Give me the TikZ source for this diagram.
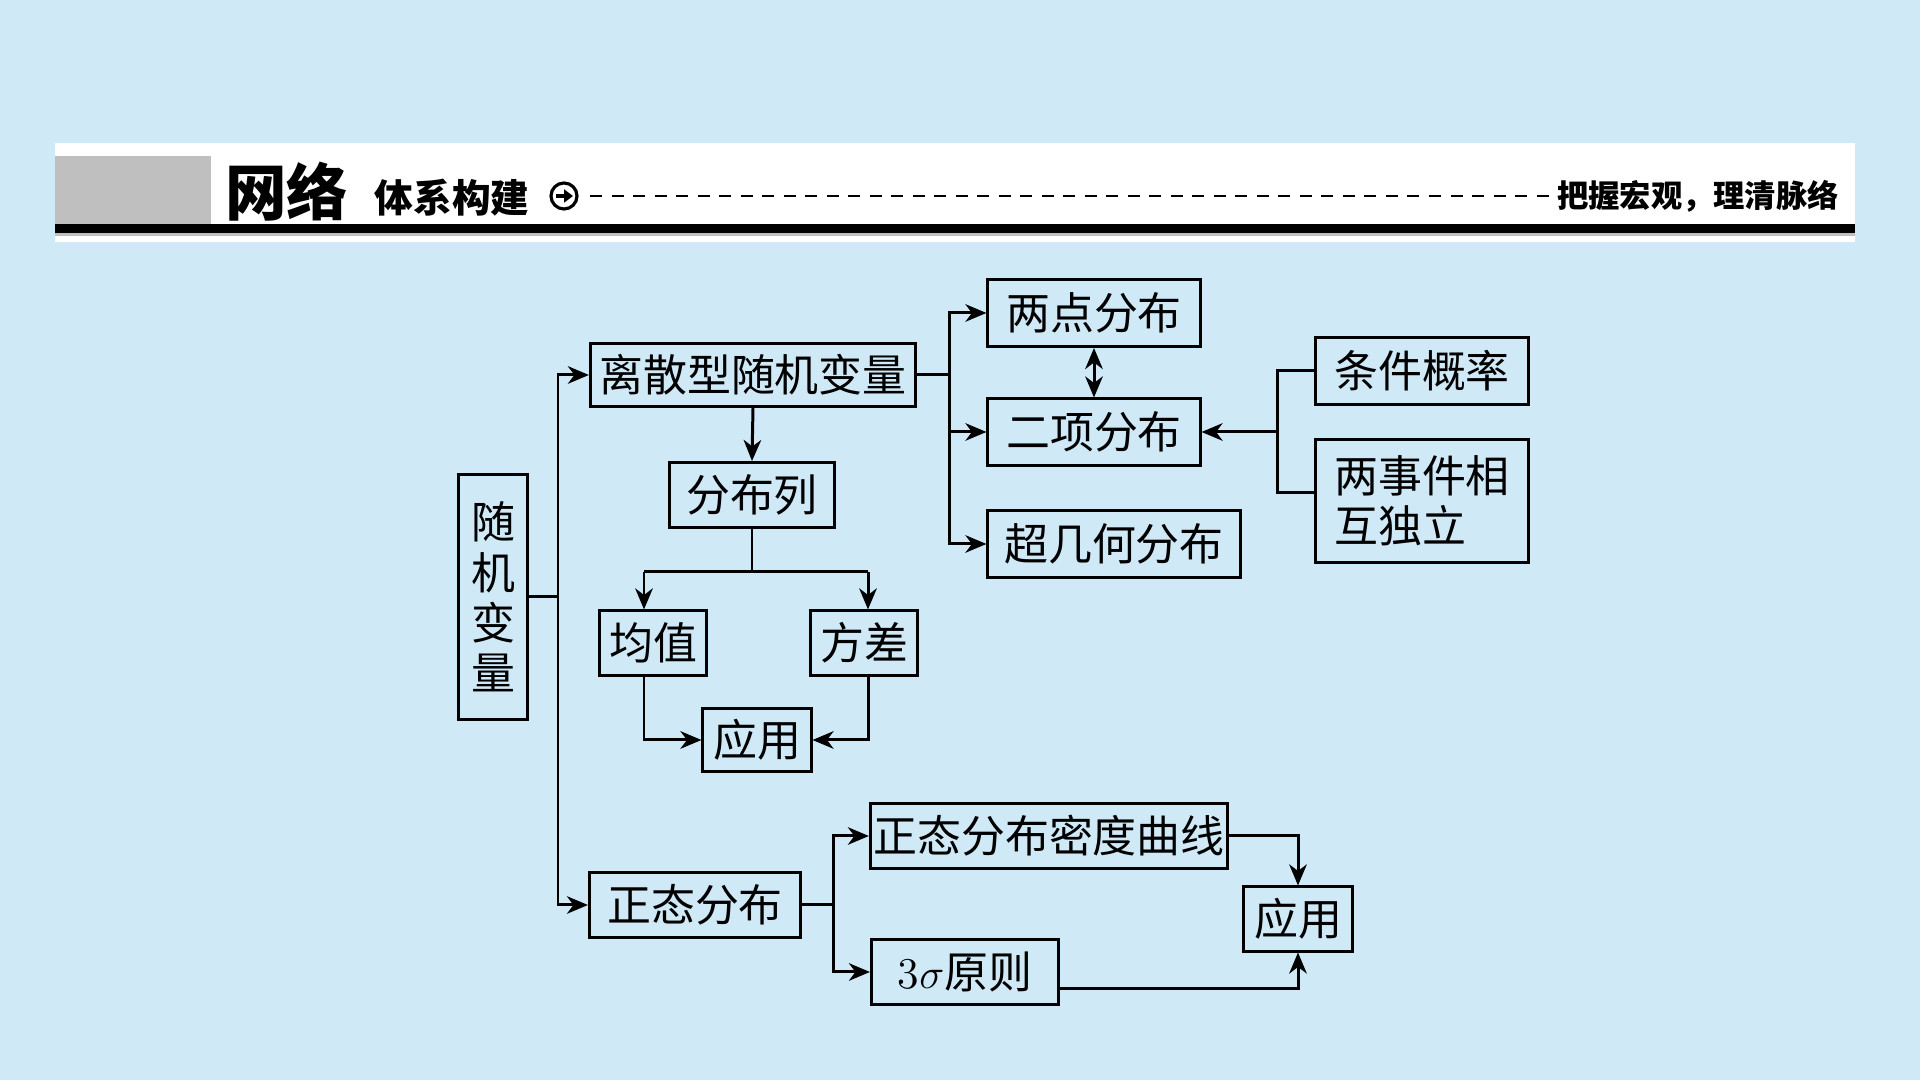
\documentclass[tikz,border=0pt]{standalone}
\usepackage{fontspec}
\newfontfamily\cjk{Noto Sans CJK SC}
\usetikzlibrary{arrows.meta,calc}
\definecolor{bgblue}{RGB}{208,233,247}
\definecolor{tabgray}{RGB}{191,191,191}
\tikzset{
  box/.style={draw,line width=0.85pt,inner sep=0pt,minimum height=6.5mm,
    font=\cjk\fontsize{12.5}{14.3}\selectfont},
  tip/.tip={Stealth[length=2.1mm,width=1.75mm,inset=0.65mm]},
  flow/.style={line width=0.85pt,-tip},
  link/.style={line width=0.85pt},
}

\begin{document}
\begin{tikzpicture}[x=0.01cm,y=-0.01cm]
  \fill[bgblue] (0,0) rectangle (1920,1080);
  % title bar
  \fill[white] (55,143) rectangle (1855,242);
  \fill[tabgray] (55,156) rectangle (211,224);
  \fill[black] (55,224) rectangle (1855,233);
  \fill[tabgray] (55,233) rectangle (1855,236);
  \node[font=\cjk\bfseries\fontsize{17.5}{20}\selectfont] (net) at (287,192) {网络};
  \node[font=\cjk\bfseries\fontsize{11}{13}\selectfont] (sub) at (452,198) {体系构建};
  \node[circle,draw,line width=0.9pt,minimum size=2.6mm,inner sep=0pt] (go) at (564,196) {};
  \draw[line width=1pt,-{Triangle[length=0.9mm,width=1.3mm]}] ([xshift=-0.8mm]go.center) -- ([xshift=0.9mm]go.center);
  \coordinate (dashA) at (590,196);
  \coordinate (dashB) at (1552,196);
  \draw[line width=0.75pt,dash pattern=on 1.2mm off 0.95mm] (dashA) -- (dashB);
  \node[font=\cjk\bfseries\fontsize{8.9}{10}\selectfont] (motto) at (1698,196) {把握宏观，理清脉络};

  % boxes
  \node[box,minimum width=6.9mm,minimum height=24.5mm,align=center] (rv) at (493,597) {随\\机\\变\\量};
  \node[box,minimum width=32.5mm,minimum height=6.3mm] (disc) at (753,375) {离散型随机变量};
  \node[box,minimum width=16.4mm] (list) at (752,495) {分布列};
  \node[box,minimum width=10.7mm,minimum height=6.4mm] (mean) at (653,643) {均值};
  \node[box,minimum width=10.6mm,minimum height=6.4mm] (var) at (864,643) {方差};
  \node[box,minimum width=10.8mm,minimum height=6.3mm] (appA) at (757,740) {应用};
  \node[box,minimum width=21.2mm,minimum height=6.7mm] (twopt) at (1094,313) {两点分布};
  \node[box,minimum width=21.2mm,minimum height=6.6mm] (binom) at (1094,432) {二项分布};
  \node[box,minimum width=25.2mm,minimum height=6.6mm] (hyper) at (1114,544) {超几何分布};
  \node[box,minimum width=21.2mm,minimum height=6.6mm] (cond) at (1422,371) {条件概率};
  \node[box,minimum width=21.2mm,minimum height=12.3mm,align=left] (indep) at (1422,501) {两事件相\\互独立};
  \node[box,minimum width=21.1mm] (normal) at (695,905) {正态分布};
  \node[box,minimum width=35.7mm] (dens) at (1049,836) {正态分布密度曲线};
  \node[box,minimum width=18.7mm] (rule) at (965,972) {{\rmfamily 3}$\sigma$原则};
  \node[box,minimum width=10.8mm,minimum height=6.4mm] (appB) at (1298,919) {应用};

  % connectors
  \coordinate (trunk) at (558,597);
  \draw[link] (rv.east) -- (trunk);
  \draw[flow] (trunk) |- (disc.west);
  \draw[flow] (trunk) |- (normal.west);

  \coordinate (fork) at (949,375);
  \draw[link] (disc.east) -- (fork);
  \draw[flow] (fork) |- (twopt.west);
  \draw[flow] (fork) |- (binom.west);
  \draw[flow] (fork) |- (hyper.west);
  \draw[flow] (disc.south) -- (list.north);
  \draw[link,tip-tip] (twopt.south) -- (binom.north);

  \coordinate (splitL) at (644,572);
  \coordinate (splitR) at (868,572);
  \draw[link] (list.south) -- (list.south |- splitL);
  \draw[link] (splitL) -- (splitR);
  \draw[flow] (splitL) -- (splitL |- mean.north);
  \draw[flow] (splitR) -- (splitR |- var.north);
  \draw[flow] (splitL |- mean.south) |- (appA.west);
  \draw[flow] (splitR |- var.south) |- (appA.east);

  \coordinate (joinA) at (1277,375);
  \coordinate (joinB) at (1277,493);
  \coordinate (join) at (1277,432);
  \draw[link] (cond.west) -- (cond.west -| joinA) -- (joinB) -- (joinB -| indep.west);
  \draw[flow] (join) -- (join -| binom.east);

  \coordinate (split) at (833,905);
  \draw[link] (normal.east) -- (split);
  \draw[flow] (split) |- (dens.west);
  \draw[flow] (split) |- (rule.west);
  \draw[flow] (dens.east) -| (appB.north);
  \draw[flow] ($(rule.east)+(0,17)$) -| (appB.south);
\end{tikzpicture}
\end{document}
